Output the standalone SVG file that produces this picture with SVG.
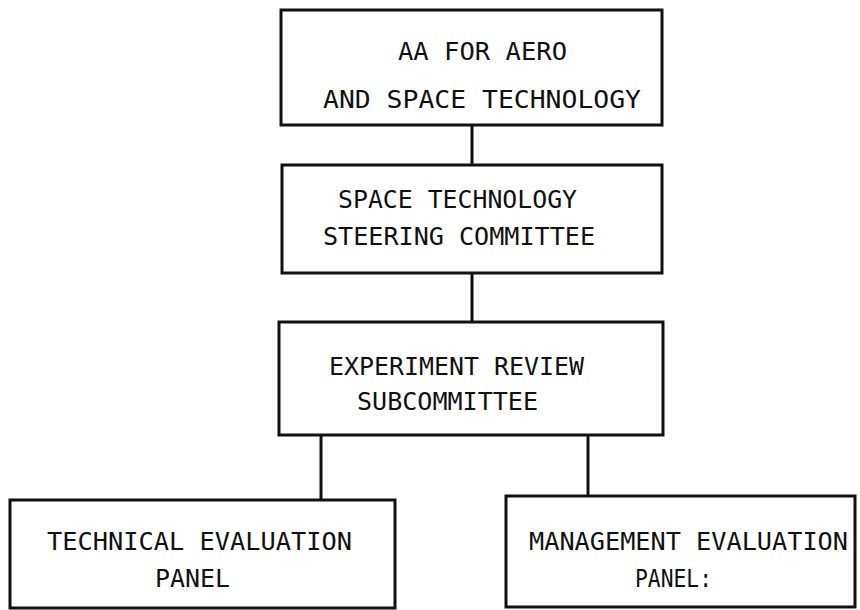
<svg xmlns="http://www.w3.org/2000/svg" width="860" height="610" viewBox="0 0 860 610">
<style>
rect{fill:#fff;stroke:#111;stroke-width:3}
line{stroke:#111;stroke-width:3}
text{font-family:"DejaVu Sans Mono","Liberation Mono",monospace;font-size:24px;fill:#111}
</style>
<rect x="0" y="0" width="860" height="610" style="stroke:none"/>
<g id="connectors">
<line x1="472" y1="125" x2="472" y2="165"/>
<line x1="472" y1="273" x2="472" y2="322"/>
<line x1="321" y1="435" x2="321" y2="500"/>
<line x1="588" y1="435" x2="588" y2="496"/>
</g>
<g id="n1">
<rect x="281" y="10" width="381" height="115"/>
<text x="398" y="60" textLength="169" lengthAdjust="spacingAndGlyphs">AA FOR AERO</text>
<text x="323" y="108" textLength="318" lengthAdjust="spacingAndGlyphs">AND SPACE TECHNOLOGY</text>
</g>
<g id="n2">
<rect x="282" y="165" width="380" height="108"/>
<text x="338" y="208" textLength="239" lengthAdjust="spacingAndGlyphs">SPACE TECHNOLOGY</text>
<text x="323" y="245" textLength="272" lengthAdjust="spacingAndGlyphs">STEERING COMMITTEE</text>
</g>
<g id="n3">
<rect x="279" y="322" width="384" height="113"/>
<text x="329" y="375" textLength="255" lengthAdjust="spacingAndGlyphs">EXPERIMENT REVIEW</text>
<text x="357" y="410" textLength="181" lengthAdjust="spacingAndGlyphs">SUBCOMMITTEE</text>
</g>
<g id="n4">
<rect x="10" y="500" width="385" height="108"/>
<text x="47" y="550" textLength="305" lengthAdjust="spacingAndGlyphs">TECHNICAL EVALUATION</text>
<text x="155" y="587" textLength="75" lengthAdjust="spacingAndGlyphs">PANEL</text>
</g>
<g id="n5">
<rect x="506" y="496" width="349" height="111"/>
<text x="529" y="550" textLength="319" lengthAdjust="spacingAndGlyphs">MANAGEMENT EVALUATION</text>
<text x="635" y="587" textLength="77" lengthAdjust="spacingAndGlyphs">PANEL:</text>
</g>
</svg>
